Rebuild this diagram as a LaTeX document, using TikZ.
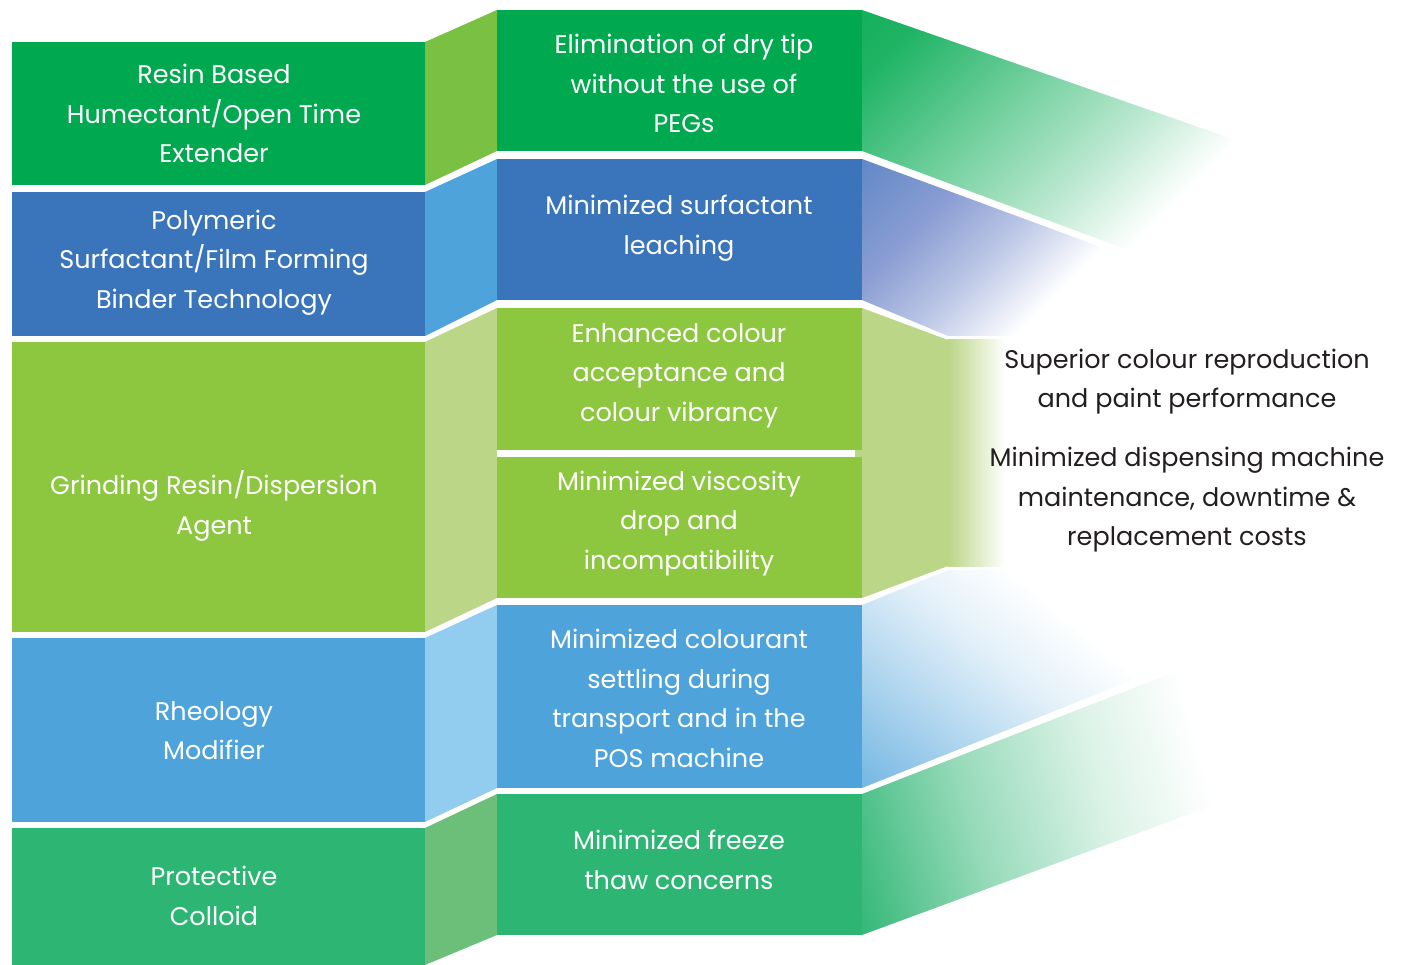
\documentclass[tikz,border=0pt]{standalone}
\usepackage{fontspec}
\setmainfont{Poppins}
\definecolor{cGreen}{HTML}{00A94F}
\definecolor{cGreenC}{HTML}{7AC143}
\definecolor{cBlue}{HTML}{3A75BB}
\definecolor{cBlueC}{HTML}{4FA3DB}
\definecolor{cLime}{HTML}{8DC63F}
\definecolor{cLimeC}{HTML}{BBD686}
\definecolor{cSky}{HTML}{4FA3DB}
\definecolor{cSkyC}{HTML}{92CCEE}
\definecolor{cTeal}{HTML}{2DB573}
\definecolor{cTealC}{HTML}{6BBF78}
\definecolor{cText}{HTML}{231F20}
\definecolor{cPeri}{HTML}{8A9DD3}
\pgfdeclarehorizontalshading{fanGreen}{100bp}{color(0bp)=(cGreen); color(22bp)=(cGreen!88!white); color(35bp)=(cGreen!65!white); color(56bp)=(cGreen!28!white); color(70bp)=(white); color(100bp)=(white)}
\pgfdeclarehorizontalshading{fanBlue}{100bp}{color(0bp)=(cBlue); color(30bp)=(cPeri); color(42bp)=(cPeri!60!white); color(56bp)=(white); color(100bp)=(white)}
\pgfdeclarehorizontalshading{fanSky}{100bp}{color(0bp)=(cSky); color(15bp)=(cSky!78!white); color(30bp)=(cSky!45!white); color(44bp)=(cSky!16!white); color(56bp)=(white); color(100bp)=(white)}
\pgfdeclarehorizontalshading{fanTeal}{100bp}{color(0bp)=(cTeal); color(18bp)=(cTeal); color(36bp)=(cTeal!50!white); color(52bp)=(cTeal!18!white); color(66bp)=(white); color(100bp)=(white)}
\begin{document}
\begin{tikzpicture}[x=1pt,y=-1pt,
  wtxt/.style={text=white, align=center, inner sep=0pt, font=\fontsize{25.5}{39.5}\selectfont},
  dtxt/.style={text=cText, align=center, inner sep=0pt, font=\fontsize{25.5}{39.5}\selectfont}]
\useasboundingbox (0,0) rectangle (1403,965);
% left boxes
\fill[cGreen] (12,42) rectangle (425,185);
\fill[cBlue]  (12,192) rectangle (425,336);
\fill[cLime]  (12,342) rectangle (425,632);
\fill[cSky]   (12,638) rectangle (425,822);
\fill[cTeal]  (12,828) rectangle (425,965);
% connectors
\fill[cGreenC] (425,42) -- (497,10) -- (497,151) -- (425,185) -- cycle;
\fill[cBlueC]  (425,192) -- (497,159) -- (497,300) -- (425,336) -- cycle;
\fill[cLimeC]  (425,342) -- (497,308) -- (497,598) -- (425,632) -- cycle;
\fill[cSkyC]   (425,638) -- (497,605) -- (497,788) -- (425,822) -- cycle;
\fill[cTealC]  (425,828) -- (497,794) -- (497,935) -- (425,965) -- cycle;
% middle boxes
\fill[cGreen] (497,10) rectangle (862,151);
\fill[cBlue]  (497,159) rectangle (862,300);
\fill[cLime]  (497,308) rectangle (862,450);
\fill[cLime]  (497,457) rectangle (862,598);
\fill[cLimeC] (855,450) rectangle (862,457);
\fill[cSky]   (497,605) rectangle (862,788);
\fill[cTeal]  (497,794) rectangle (862,935);
% fans
\shade[shading=fanGreen, shading angle=-45] (862,10) -- (1230,138) -- (1230,288) -- (862,151) -- cycle;
\shade[shading=fanBlue, shading angle=-45] (862,159) -- (1250,302) -- (1250,336) -- (948,336) -- (862,300) -- cycle;
\fill[cLimeC] (862,308) -- (948,340) -- (948,566) -- (862,598) -- cycle;
\shade[left color=cLimeC, right color=white] (947.5,340) rectangle (1005,566);
\shade[shading=fanSky, shading angle=50] (862,605) -- (948,570) -- (1300,570) -- (1300,613) -- (862,788) -- cycle;
\shade[shading=fanTeal, shading angle=15] (862,794) -- (1290,627) -- (1290,777) -- (862,935) -- cycle;
% texts
\node[wtxt] (l1) at (214,113.5) {Resin Based\\Humectant/Open Time\\Extender};
\node[wtxt] (l2) at (214,262.5) {Polymeric\\Surfactant/Film Forming\\Binder Technology};
\node[wtxt] (l3) at (214,506) {Grinding Resin/Dispersion\\Agent};
\node[wtxt] (l4) at (214,730.5) {Rheology\\Modifier};
\node[wtxt] (l5) at (214,896) {Protective\\Colloid};
\node[wtxt] (m1) at (684,83.5) {Elimination of dry tip\\without the use of\\PEGs};
\node[wtxt] (m2) at (679,228) {Minimized surfactant\\leaching};
\node[wtxt] (m3) at (679,375.5) {Enhanced colour\\acceptance and\\colour vibrancy};
\node[wtxt] (m4) at (679,523.5) {Minimized viscosity\\drop and\\incompatibility};
\node[wtxt] (m5) at (679,698.5) {Minimized colourant\\settling during\\transport and in the\\POS machine};
\node[wtxt] (m6) at (679,860) {Minimized freeze\\thaw concerns};
\node[dtxt] (r1) at (1187,381.5) {Superior colour reproduction\\and paint performance};
\node[dtxt] (r2) at (1187,500) {Minimized dispensing machine\\maintenance, downtime \&\\replacement costs};
\end{tikzpicture}
\end{document}
